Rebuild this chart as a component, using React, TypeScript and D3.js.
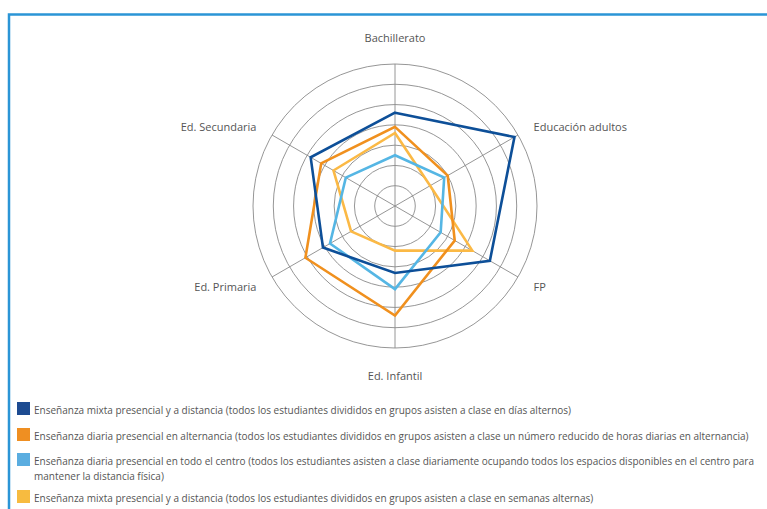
import React from 'react';
import * as d3 from 'd3';

// axes, clockwise from the top
const axes = ['Bachillerato', 'Educación adultos', 'FP', 'Ed. Infantil', 'Ed. Primaria', 'Ed. Secundaria'];

// series values (ring step = 10)
const mixtaDias = [46, 68, 54, 33, 41, 48];
const diariaAlternancia = [39, 30, 34, 54, 51, 42];
const diariaCentro = [25, 28, 26, 41, 37, 28];
const mixtaSemanas = [36, 20, 44, 22, 25, 35];

const seriesNames = [
  'Enseñanza mixta presencial y a distancia (todos los estudiantes divididos en grupos asisten a clase en días alternos)',
  'Enseñanza diaria presencial en alternancia (todos los estudiantes divididos en grupos asisten a clase un número reducido de horas diarias en alternancia)',
  'Enseñanza diaria presencial en todo el centro (todos los estudiantes asisten a clase diariamente ocupando todos los espacios disponibles en el centro para\nmantener la distancia física)',
  'Enseñanza mixta presencial y a distancia (todos los estudiantes divididos en grupos asisten a clase en semanas alternas)',
];
const lineColors = ['#0d4f98', '#f0901e', '#55b6e4', '#fbb945'];
const swatchColors = ['#1d4b91', '#ef8f22', '#5aade0', '#f7bb40'];

const rings = [10, 20, 30, 40, 50, 60, 70];

const width = 767;
const height = 509;
const cx = 395;
const cy = 206;
const R = 142;
const font = "'Open Sans', 'Noto Sans', sans-serif";
const textColor = '#555';

export default function App() {
  const r = d3.scaleLinear().domain([0, 70]).range([0, R]);
  const angle = d3.scalePoint<string>().domain(axes).range([0, 2 * Math.PI * 5 / 6]);

  const line = d3.lineRadial<number>()
    .angle((_, i) => angle(axes[i]) as number)
    .radius(d => r(d))
    .curve(d3.curveLinearClosed);

  const data = [mixtaDias, diariaAlternancia, diariaCentro, mixtaSemanas];
  // draw order: last on top
  const drawOrder = [3, 2, 1, 0];

  return (
    <div style={{ position: 'absolute', left: 0, top: 0 }}>
      <svg width={width} height={height} style={{ display: 'block', background: '#fff' }}>
        {/* frame */}
        <path d={`M9,${height} V14.5 H${width}`} fill="none" stroke="#2b95d6" strokeWidth={2.5} />

        <g transform={`translate(${cx},${cy})`}>
          {/* rings */}
          {rings.map(t => (
            <circle key={t} r={r(t)} fill="none" stroke="#8a8a8a" strokeWidth={0.9} />
          ))}
          {/* spokes */}
          {axes.map(a => {
            const ang = angle(a) as number;
            return (
              <line key={a} x1={0} y1={0}
                x2={R * Math.sin(ang)} y2={-R * Math.cos(ang)}
                stroke="#8a8a8a" strokeWidth={0.9} />
            );
          })}
          {/* series */}
          {drawOrder.map(i => (
            <path key={i} d={line(data[i]) || ''} fill="none"
              stroke={lineColors[i]} strokeWidth={2.6} strokeLinejoin="miter" />
          ))}
          {/* axis labels */}
          {axes.map(a => {
            const ang = angle(a) as number;
            const s = Math.sin(ang);
            const c = Math.cos(ang);
            const vertical = Math.abs(s) < 0.01;
            const L = vertical ? R + 27 : R + 18;
            const x = L * s;
            const y = -L * c;
            const anchor = vertical ? 'middle' : s > 0 ? 'start' : 'end';
            return (
              <text key={a} x={x} y={y} textAnchor={anchor} dominantBaseline="central"
                fontFamily={font} fontSize={11} fill={textColor}>{a}</text>
            );
          })}
        </g>

        {/* legend */}
        {seriesNames.map((name, i) => {
          const ys = [402, 428, 453, 490];
          const y0 = ys[i];
          return (
            <g key={i} transform={`translate(17,${y0})`}>
              <rect width={13} height={13} fill={swatchColors[i]} />
              {name.split('\n').map((ln, j) => (
                <text key={j} x={17} y={8 + j * 15} dominantBaseline="central"
                  fontFamily={font} fontSize={10} fill={textColor}>{ln}</text>
              ))}
            </g>
          );
        })}
      </svg>
    </div>
  );
}
